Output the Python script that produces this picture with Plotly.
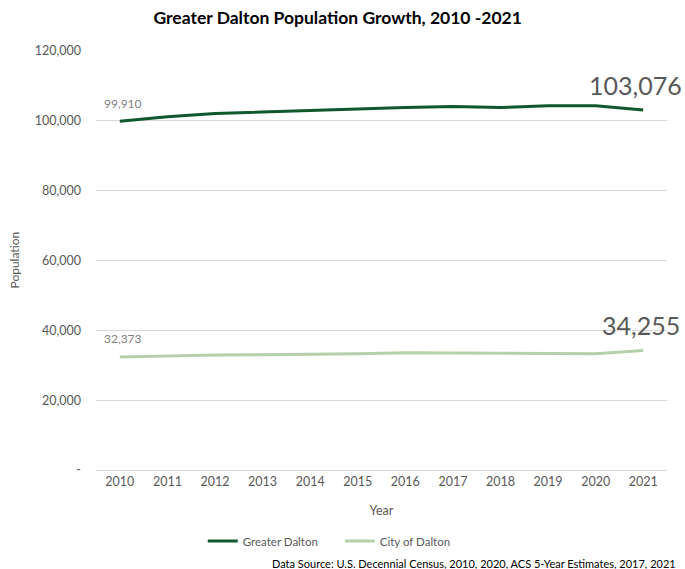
import plotly.graph_objects as go

years = ["2010", "2011", "2012", "2013", "2014", "2015", "2016", "2017", "2018", "2019", "2020", "2021"]
greater_dalton = [99910, 101200, 102100, 102600, 103100, 103400, 103800, 104100, 103800, 104300, 104300, 103076]
city_of_dalton = [32373, 32700, 32900, 33000, 33100, 33300, 33600, 33500, 33300, 33400, 33300, 34255]
y_tickvals = [0, 20000, 40000, 60000, 80000, 100000, 120000]
y_ticktext = ["-", "20,000", "40,000", "60,000", "80,000", "100,000", "120,000"]

FONT = "Lato, Open Sans, DejaVu Sans, sans-serif"
DARK = "#10582F"
LIGHT = "#B8CFAB"
GRAY = "#595959"

fig = go.Figure()
fig.add_trace(go.Scatter(x=years, y=greater_dalton, mode="lines", name="Greater Dalton",
                         line=dict(color=DARK, width=3)))
fig.add_trace(go.Scatter(x=years, y=city_of_dalton, mode="lines", name="City of Dalton",
                         line=dict(color=LIGHT, width=3)))

first, last = 0, len(years) - 1
ann = []
ann.append(dict(x=first, y=greater_dalton[first], text=f"{greater_dalton[first]:,}", showarrow=False,
                yshift=18, xshift=3, font=dict(size=12, color="#7F7F7F", family=FONT)))
ann.append(dict(x=first, y=city_of_dalton[first], text=f"{city_of_dalton[first]:,}", showarrow=False,
                yshift=18, xshift=3, font=dict(size=12, color="#7F7F7F", family=FONT)))
ann.append(dict(x=last, y=greater_dalton[last], text=f"{greater_dalton[last]:,}", showarrow=False,
                yshift=25, xshift=-8, font=dict(size=25, color=GRAY, family=FONT)))
ann.append(dict(x=last, y=city_of_dalton[last], text=f"{city_of_dalton[last]:,}", showarrow=False,
                yshift=25, xshift=-2, font=dict(size=25, color=GRAY, family=FONT)))
ann.append(dict(xref="paper", yref="paper", x=1.02, y=-0.222, xanchor="right", yanchor="middle",
                text="Data Source: U.S. Decennial Census, 2010, 2020, ACS 5-Year Estimates, 2017, 2021",
                showarrow=False, font=dict(size=11, color="#000000", family=FONT)))
ann.append(dict(xref="paper", yref="paper", x=-0.1436, y=0.5, xanchor="center", yanchor="middle",
                text="Population", textangle=-90, showarrow=False,
                font=dict(size=12, color=GRAY, family=FONT)))

fig.update_layout(
    width=685, height=569,
    margin=dict(l=96, r=18, t=51, b=99, autoexpand=False),
    paper_bgcolor="white", plot_bgcolor="white",
    title=dict(text="<b>Greater Dalton Population Growth, 2010 -2021</b>", x=0.493, xanchor="center",
               y=0.968, yanchor="middle", font=dict(size=17.5, color="#000000", family=FONT)),
    font=dict(family=FONT, color=GRAY),
    xaxis=dict(type="category", range=[-0.5, 11.5], showgrid=False, showline=True, automargin=False,
               linecolor="#D9D9D9", linewidth=1, ticks="", tickfont=dict(size=12.5, color=GRAY),
               title=dict(text="Year", font=dict(size=12.5, color=GRAY), standoff=18)),
    yaxis=dict(range=[0, 120000], tickvals=y_tickvals, ticktext=y_ticktext, showgrid=True, automargin=False,
               gridcolor="#D9D9D9", gridwidth=1, zeroline=False, ticks="", ticklen=0, ticklabelstandoff=14,
               tickfont=dict(size=12.5, color=GRAY)),
    legend=dict(orientation="h", xanchor="left", x=0.187, yref="paper", y=-0.1695, yanchor="middle",
                font=dict(size=11.5, color=GRAY), itemwidth=30, entrywidth=92, entrywidthmode="pixels"),
    showlegend=True,
    annotations=ann,
)

fig.write_html("out.html", config={"displayModeBar": False},
               post_script="document.body.style.margin='0';document.body.style.overflow='hidden';")
